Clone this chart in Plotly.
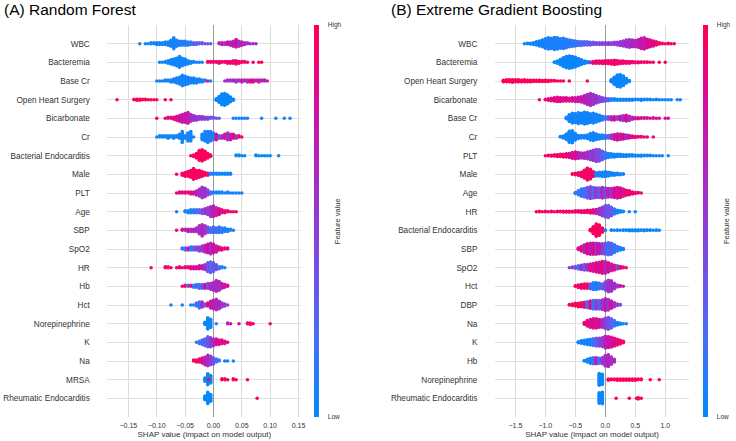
import math
import plotly.graph_objects as go

# ---------------- data: SHAP beeswarm bins ----------------
# each bin: [shap value, number of samples, normalised feature value (0 low .. 1 high)]
rf_features = ["WBC", "Bacteremia", "Base Cr", "Open Heart Surgery", "Bicarbonate", "Cr",
               "Bacterial Endocarditis", "Male", "PLT", "Age", "SBP", "SpO2", "HR", "Hb",
               "Hct", "Norepinephrine", "K", "Na", "MRSA", "Rheumatic Endocarditis"]

rf_bins = [
    # WBC
    [[-0.13,1,.05],[-0.12,1,.05],[-0.115,1,.05],[-0.11,2,.05],[-0.105,2,.05],[-0.10,3,.05],[-0.095,3,.05],
     [-0.09,3,.05],[-0.085,4,.05],[-0.08,5,.05],[-0.075,8,.05],[-0.07,14,.05],[-0.065,8,.08],[-0.06,6,.05],
     [-0.055,6,.1],[-0.05,6,.05],[-0.045,5,.15],[-0.04,4,.1],[-0.035,3,.3],[-0.03,3,.25],[-0.025,2,.35],
     [-0.02,2,.3],[-0.015,1,.4],[-0.01,1,.35],[-0.005,1,.3],[0.01,2,.6],[0.015,3,.75],[0.02,3,.55],
     [0.025,4,.8],[0.03,5,.7],[0.035,7,.65],[0.04,10,.8],[0.045,7,.6],[0.05,5,.75],[0.055,3,.6],
     [0.06,2,.55],[0.065,1,.6],[0.07,1,.55],[0.075,1,.6]],
    # Bacteremia
    [[-0.095,1,.05],[-0.09,1,.05],[-0.085,2,.05],[-0.08,4,.05],[-0.075,6,.05],[-0.07,8,.05],[-0.065,10,.05],
     [-0.06,14,.05],[-0.055,10,.05],[-0.05,8,.05],[-0.045,5,.05],[-0.04,3,.05],[-0.035,2,.05],[-0.03,1,.05],
     [-0.025,1,.05],[-0.02,1,.05],[-0.01,2,.95],[-0.005,2,.95],[0.0,2,.9],[0.005,2,.95],[0.01,3,.95],
     [0.015,2,.9],[0.02,2,.95],[0.025,3,.95],[0.03,3,.9],[0.035,4,.95],[0.04,5,.95],[0.045,3,.9],
     [0.05,2,.95],[0.055,2,.95],[0.06,1,.95],[0.07,1,.95],[0.08,1,.95],[0.085,1,.95]],
    # Base Cr
    [[-0.10,1,.05],[-0.095,1,.05],[-0.09,1,.05],[-0.085,2,.05],[-0.08,2,.05],[-0.075,3,.05],[-0.07,4,.05],
     [-0.065,6,.05],[-0.06,8,.05],[-0.055,12,.05],[-0.05,10,.05],[-0.045,8,.05],[-0.04,6,.05],[-0.035,6,.05],
     [-0.03,5,.05],[-0.025,4,.05],[-0.02,3,.05],[-0.015,2,.1],[-0.01,1,.9],[-0.005,1,.05],[0.02,1,.55],
     [0.025,2,.6],[0.03,2,.5],[0.035,2,.65],[0.04,3,.6],[0.045,2,.6],[0.05,3,.7],[0.055,2,.65],[0.06,3,.6],
     [0.065,3,.9],[0.07,3,.85],[0.075,2,.7],[0.08,3,.8],[0.085,2,.6],[0.09,2,.75],[0.095,1,.65]],
    # Open Heart Surgery
    [[-0.17,1,.97],[-0.14,2,.97],[-0.135,3,.97],[-0.13,3,.97],[-0.125,2,.97],[-0.12,2,.97],[-0.115,1,.97],
     [-0.11,1,.97],[-0.105,1,.97],[-0.10,1,.97],[-0.085,1,.97],[-0.075,1,.97],[0.005,4,.02],[0.01,12,.02],
     [0.015,22,.02],[0.02,24,.02],[0.025,18,.02],[0.03,10,.02],[0.035,3,.02]],
    # Bicarbonate
    [[-0.10,1,.97],[-0.085,1,.9],[-0.08,2,.9],[-0.075,2,.85],[-0.07,3,.9],[-0.065,5,.85],[-0.06,7,.8],
     [-0.055,9,.75],[-0.05,10,.7],[-0.045,12,.75],[-0.04,8,.6],[-0.035,6,.55],[-0.03,5,.55],[-0.025,4,.5],
     [-0.02,4,.55],[-0.015,3,.5],[-0.01,3,.45],[-0.005,2,.4],[0.0,2,.35],[0.005,1,.4],[0.01,1,.3],
     [0.035,1,.05],[0.04,1,.05],[0.045,1,.05],[0.05,1,.05],[0.055,1,.05],[0.06,1,.05],[0.085,1,.05],
     [0.11,1,.05],[0.125,1,.05],[0.135,1,.05]],
    # Cr
    [[-0.10,1,.05],[-0.095,2,.05],[-0.09,2,.05],[-0.085,2,.05],[-0.08,3,.05],[-0.075,2,.05],[-0.07,3,.05],
     [-0.065,2,.05],[-0.06,4,.05],[-0.055,9,.05],[-0.05,3,.05],[-0.045,7,.05],[-0.04,8,.05],[-0.035,1,.05],
     [-0.02,5,.05],[-0.015,8,.05],[-0.01,9,.05],[-0.005,8,.1],[0.0,6,.05],[0.005,5,.85],[0.01,3,.3],
     [0.015,3,.6],[0.02,4,.85],[0.025,6,.6],[0.03,5,.7],[0.035,4,.9],[0.04,3,.55],[0.045,2,.9],[0.05,1,.95]],
    # Bacterial Endocarditis
    [[-0.04,1,.97],[-0.035,3,.97],[-0.03,7,.97],[-0.025,14,.97],[-0.02,16,.97],[-0.015,12,.97],[-0.01,7,.97],
     [-0.005,3,.97],[0.04,2,.02],[0.045,2,.02],[0.05,1,.02],[0.055,1,.02],[0.075,2,.02],[0.08,1,.02],
     [0.085,1,.02],[0.09,1,.02],[0.095,1,.02],[0.10,1,.02],[0.115,1,.02]],
    # Male
    [[-0.065,1,.97],[-0.055,3,.97],[-0.05,5,.97],[-0.045,6,.97],[-0.04,8,.97],[-0.035,12,.97],[-0.03,9,.97],
     [-0.025,8,.97],[-0.02,6,.97],[-0.015,4,.95],[-0.01,3,.9],[-0.005,2,.05],[0.0,2,.05],[0.005,2,.05],
     [0.01,2,.05],[0.015,2,.05],[0.02,2,.05],[0.025,2,.05],[0.03,2,.05]],
    # PLT
    [[-0.065,1,.9],[-0.06,2,.9],[-0.055,2,.85],[-0.05,2,.9],[-0.045,2,.9],[-0.04,3,.85],[-0.035,3,.8],
     [-0.03,5,.7],[-0.025,8,.6],[-0.02,12,.55],[-0.015,10,.6],[-0.01,6,.45],[-0.005,3,.3],[0.0,2,.05],
     [0.005,2,.05],[0.01,2,.05],[0.015,2,.05],[0.02,1,.05],[0.025,2,.05],[0.03,1,.05],[0.035,1,.05],
     [0.04,1,.05],[0.045,1,.05],[0.05,1,.05]],
    # Age
    [[-0.065,1,.05],[-0.05,2,.05],[-0.045,3,.05],[-0.04,4,.05],[-0.035,4,.1],[-0.03,4,.3],[-0.025,4,.25],
     [-0.02,5,.35],[-0.015,6,.55],[-0.01,8,.5],[-0.005,11,.6],[0.0,12,.7],[0.005,9,.65],[0.01,7,.9],
     [0.015,4,.85],[0.02,3,.9],[0.025,2,.9],[0.03,1,.95],[0.035,1,.9],[0.04,1,.95]],
    # SBP
    [[-0.065,1,.95],[-0.055,2,.8],[-0.05,2,.7],[-0.045,3,.75],[-0.04,3,.6],[-0.035,3,.7],[-0.03,4,.6],
     [-0.025,8,.6],[-0.02,11,.65],[-0.015,8,.55],[-0.01,6,.4],[-0.005,5,.2],[0.0,6,.1],[0.005,5,.3],
     [0.01,6,.1],[0.015,5,.15],[0.02,4,.1],[0.025,3,.05],[0.03,2,.1],[0.035,1,.05]],
    # SpO2
    [[-0.055,2,.1],[-0.05,3,.2],[-0.045,3,.8],[-0.04,4,.1],[-0.035,4,.3],[-0.03,4,.5],[-0.025,5,.45],
     [-0.02,6,.5],[-0.015,8,.7],[-0.01,10,.8],[-0.005,12,.6],[0.0,10,.85],[0.005,7,.7],[0.01,4,.9],
     [0.015,3,.9],[0.02,2,.85],[0.025,2,.9]],
    # HR
    [[-0.11,1,.97],[-0.085,2,.95],[-0.08,2,.95],[-0.075,1,.95],[-0.065,1,.95],[-0.06,2,.95],[-0.055,1,.9],
     [-0.05,2,.95],[-0.045,2,.9],[-0.04,3,.9],[-0.035,3,.8],[-0.03,3,.85],[-0.025,4,.8],[-0.02,4,.75],
     [-0.015,6,.6],[-0.01,10,.35],[-0.005,12,.25],[0.0,10,.3],[0.005,6,.4],[0.01,3,.1],[0.015,2,.1],
     [0.02,1,.05]],
    # Hb
    [[-0.055,1,.95],[-0.05,2,.9],[-0.045,2,.3],[-0.04,2,.9],[-0.035,3,.1],[-0.03,4,.2],[-0.025,5,.15],
     [-0.02,5,.3],[-0.015,5,.8],[-0.01,6,.4],[-0.005,7,.6],[0.0,9,.6],[0.005,12,.65],[0.01,10,.6],
     [0.015,6,.7],[0.02,4,.75],[0.025,2,.9]],
    # Hct
    [[-0.075,1,.05],[-0.055,1,.05],[-0.04,1,.05],[-0.035,1,.05],[-0.03,4,.2],[-0.025,7,.15],[-0.02,6,.6],
     [-0.015,3,.3],[-0.01,4,.9],[-0.005,8,.7],[0.0,10,.75],[0.005,12,.6],[0.01,9,.65],[0.015,5,.55],
     [0.02,3,.5],[0.025,1,.5]],
    # Norepinephrine
    [[-0.015,4,.02],[-0.01,16,.02],[-0.005,12,.02],[0.005,1,.1],[0.025,2,.6],[0.03,1,.75],[0.045,1,.8],
     [0.06,2,.95],[0.065,3,.95],[0.07,1,.95],[0.10,1,.97]],
    # K
    [[-0.03,1,.1],[-0.025,3,.15],[-0.02,5,.2],[-0.015,7,.3],[-0.01,10,.3],[-0.005,9,.5],[0.0,7,.6],
     [0.005,6,.8],[0.01,5,.85],[0.015,4,.9],[0.02,3,.8],[0.025,1,.9]],
    # Na
    [[-0.035,2,.95],[-0.03,3,.95],[-0.025,4,.95],[-0.02,6,.85],[-0.015,9,.7],[-0.01,12,.6],[-0.005,10,.5],
     [0.0,7,.4],[0.005,4,.2],[0.01,2,.1],[0.02,1,.05],[0.025,1,.05],[0.035,1,.05]],
    # MRSA
    [[-0.015,5,.02],[-0.01,14,.02],[-0.005,10,.02],[-0.009,1,.97],[0.015,2,.97],[0.02,2,.97],[0.025,1,.97],
     [0.035,2,.97],[0.04,1,.97],[0.06,1,.97]],
    # Rheumatic Endocarditis
    [[-0.015,6,.02],[-0.01,16,.02],[-0.005,10,.02],[0.077,1,.97]],
]

xgb_features = ["WBC", "Bacteremia", "Open Heart Surgery", "Bicarbonate", "Base Cr", "Cr", "PLT",
                "Male", "Age", "HR", "Bacterial Endocarditis", "SBP", "SpO2", "Hct", "DBP", "Na",
                "K", "Hb", "Norepinephrine", "Rheumatic Endocarditis"]

xgb_bins = [
    # WBC
    [[-1.35,1,.05],[-1.30,2,.05],[-1.25,3,.05],[-1.20,5,.05],[-1.15,8,.05],[-1.10,12,.05],[-1.05,16,.08],
     [-1.00,22,.05],[-0.95,26,.1],[-0.90,24,.05],[-0.85,28,.12],[-0.80,26,.05],[-0.75,22,.1],[-0.70,24,.05],
     [-0.65,20,.15],[-0.60,16,.05],[-0.55,14,.2],[-0.50,12,.1],[-0.45,10,.25],[-0.40,9,.15],[-0.35,8,.3],
     [-0.30,8,.25],[-0.25,7,.35],[-0.20,6,.3],[-0.15,5,.4],[-0.10,5,.4],[-0.05,5,.45],[0.00,5,.45],
     [0.05,5,.5],[0.10,5,.45],[0.15,6,.5],[0.20,7,.5],[0.25,9,.55],[0.30,12,.55],[0.35,16,.6],
     [0.40,18,.55],[0.45,16,.65],[0.50,15,.6],[0.55,18,.7],[0.60,24,.75],[0.65,26,.7],[0.70,20,.85],
     [0.75,16,.8],[0.80,12,.9],[0.85,8,.9],[0.90,4,.92],[0.95,2,.95],[1.00,1,.95],[1.05,2,.95],
     [1.10,1,.95],[1.15,1,.95]],
    # Bacteremia
    [[-0.85,2,.03],[-0.80,6,.03],[-0.75,14,.03],[-0.70,22,.03],[-0.65,28,.03],[-0.60,30,.03],[-0.55,28,.03],
     [-0.50,24,.03],[-0.45,18,.03],[-0.40,12,.03],[-0.35,7,.03],[-0.30,4,.03],[-0.25,3,.5],[-0.20,5,.9],
     [-0.15,6,.95],[-0.10,6,.9],[-0.05,7,.95],[0.00,8,.9],[0.05,8,.95],[0.10,9,.93],[0.15,11,.95],
     [0.20,9,.9],[0.25,7,.95],[0.30,6,.93],[0.35,5,.95],[0.40,5,.9],[0.45,4,.95],[0.50,3,.95],[0.55,3,.9],
     [0.60,2,.95],[0.65,2,.95],[0.70,2,.95],[0.75,1,.95],[0.80,1,.95],[0.90,1,.95],[1.00,1,.95]],
    # Open Heart Surgery
    [[-1.70,5,.97],[-1.65,6,.97],[-1.60,6,.97],[-1.55,7,.97],[-1.50,6,.97],[-1.45,6,.97],[-1.40,5,.97],
     [-1.35,6,.97],[-1.30,5,.97],[-1.25,5,.97],[-1.20,4,.97],[-1.15,4,.97],[-1.10,4,.97],[-1.05,3,.97],
     [-1.00,4,.97],[-0.95,3,.97],[-0.90,2,.97],[-0.85,2,.97],[-0.80,1,.97],[-0.75,1,.97],[-0.70,1,.97],
     [-0.60,1,.97],[-0.30,1,.97],[0.10,6,.03],[0.15,18,.03],[0.20,28,.03],[0.25,30,.03],[0.30,24,.03],
     [0.35,12,.03],[0.40,3,.03]],
    # Bicarbonate
    [[-1.10,1,.95],[-1.00,2,.9],[-0.95,4,.9],[-0.90,6,.85],[-0.85,8,.92],[-0.80,10,.85],[-0.75,9,.9],
     [-0.70,8,.8],[-0.65,8,.9],[-0.60,7,.8],[-0.55,8,.85],[-0.50,9,.75],[-0.45,10,.8],[-0.40,12,.7],
     [-0.35,16,.72],[-0.30,22,.65],[-0.25,26,.6],[-0.20,22,.55],[-0.15,16,.6],[-0.10,12,.45],
     [-0.05,9,.45],[0.00,7,.4],[0.05,5,.3],[0.10,4,.05],[0.15,4,.05],[0.20,3,.05],[0.25,3,.05],
     [0.30,3,.05],[0.35,3,.05],[0.40,3,.05],[0.45,3,.05],[0.50,2,.05],[0.55,2,.05],[0.60,3,.05],
     [0.65,2,.05],[0.70,2,.05],[0.75,2,.05],[0.80,1,.05],[0.85,2,.05],[0.90,1,.05],[0.95,1,.05],
     [1.00,1,.05],[1.05,1,.05],[1.10,1,.05],[1.20,1,.05],[1.25,1,.05]],
    # Base Cr
    [[-0.65,4,.05],[-0.60,14,.05],[-0.55,20,.05],[-0.50,18,.05],[-0.45,22,.05],[-0.40,20,.05],
     [-0.35,24,.05],[-0.30,22,.05],[-0.25,18,.05],[-0.20,20,.05],[-0.15,16,.05],[-0.10,12,.05],
     [-0.05,8,.05],[0.00,6,.2],[0.05,6,.4],[0.10,7,.6],[0.15,7,.85],[0.20,6,.5],[0.25,8,.8],[0.30,10,.55],
     [0.35,12,.8],[0.40,9,.6],[0.45,5,.65],[0.50,3,.75],[0.55,3,.85],[0.60,2,.75],[0.65,2,.85],
     [0.70,2,.75],[0.75,1,.85],[0.80,2,.75],[0.85,1,.85],[0.90,1,.8],[1.00,1,.85],[1.05,1,.8]],
    # Cr
    [[-0.75,2,.05],[-0.70,5,.05],[-0.65,12,.05],[-0.60,22,.05],[-0.55,24,.05],[-0.50,14,.05],[-0.45,7,.05],
     [-0.40,6,.05],[-0.35,6,.05],[-0.30,8,.05],[-0.25,14,.05],[-0.20,16,.05],[-0.15,12,.05],[-0.10,9,.05],
     [-0.05,8,.05],[0.00,7,.15],[0.05,6,.3],[0.10,8,.5],[0.15,11,.7],[0.20,13,.85],[0.25,12,.65],
     [0.30,10,.9],[0.35,8,.6],[0.40,6,.8],[0.45,4,.9],[0.50,3,.9],[0.55,2,.92],[0.60,2,.9],[0.65,1,.92],
     [0.70,1,.9],[0.80,1,.92]],
    # PLT
    [[-1.00,1,.95],[-0.95,2,.95],[-0.90,3,.95],[-0.85,4,.95],[-0.80,5,.95],[-0.75,6,.95],[-0.70,7,.95],
     [-0.65,8,.95],[-0.60,10,.85],[-0.55,14,.75],[-0.50,16,.85],[-0.45,14,.7],[-0.40,12,.6],[-0.35,13,.65],
     [-0.30,16,.6],[-0.25,20,.5],[-0.20,24,.55],[-0.15,28,.45],[-0.10,26,.4],[-0.05,20,.3],[0.00,14,.2],
     [0.05,10,.05],[0.10,8,.05],[0.15,7,.05],[0.20,6,.05],[0.25,6,.05],[0.30,5,.05],[0.35,5,.05],
     [0.40,4,.05],[0.45,4,.05],[0.50,3,.05],[0.55,3,.05],[0.60,3,.05],[0.65,2,.05],[0.70,2,.05],
     [0.75,2,.05],[0.80,1,.05],[0.85,1,.05],[0.90,1,.05],[0.95,1,.05],[1.05,1,.05]],
    # Male
    [[-0.55,2,.95],[-0.50,4,.95],[-0.45,6,.95],[-0.40,9,.95],[-0.35,16,.95],[-0.30,24,.95],[-0.25,20,.95],
     [-0.20,10,.95],[-0.15,7,.05],[-0.10,8,.05],[-0.05,9,.05],[0.00,10,.05],[0.05,8,.05],[0.10,6,.05],
     [0.15,5,.05],[0.20,4,.05],[0.25,3,.05],[0.30,2,.05]],
    # Age
    [[-0.50,3,.15],[-0.45,8,.15],[-0.40,14,.1],[-0.35,16,.2],[-0.30,20,.3],[-0.25,22,.45],[-0.20,20,.25],
     [-0.15,18,.55],[-0.10,18,.35],[-0.05,20,.6],[0.00,18,.45],[0.05,16,.7],[0.10,16,.55],[0.15,18,.85],
     [0.20,20,.75],[0.25,18,.9],[0.30,14,.8],[0.35,10,.92],[0.40,8,.92],[0.45,5,.92],[0.50,3,.92],
     [0.55,2,.92],[0.60,1,.92]],
    # HR
    [[-1.15,1,.95],[-1.10,2,.95],[-1.05,1,.95],[-1.00,2,.95],[-0.95,1,.95],[-0.90,2,.95],[-0.85,1,.95],
     [-0.80,2,.95],[-0.75,2,.95],[-0.70,3,.95],[-0.65,3,.9],[-0.60,3,.95],[-0.55,3,.9],[-0.50,4,.95],
     [-0.45,4,.9],[-0.40,5,.95],[-0.35,5,.9],[-0.30,6,.95],[-0.25,7,.9],[-0.20,8,.85],[-0.15,10,.75],
     [-0.10,14,.6],[-0.05,20,.5],[0.00,26,.4],[0.05,28,.3],[0.10,20,.35],[0.15,12,.2],[0.20,7,.05],
     [0.25,4,.05],[0.30,2,.05],[0.40,1,.05],[0.50,1,.05]],
    # Bacterial Endocarditis
    [[-0.25,4,.97],[-0.20,16,.97],[-0.15,28,.97],[-0.10,24,.97],[-0.05,10,.97],[0.00,2,.03],[0.10,2,.03],
     [0.15,1,.03],[0.20,2,.03],[0.25,1,.03],[0.30,2,.03],[0.35,2,.03],[0.40,3,.03],[0.45,3,.03],
     [0.50,3,.03],[0.55,3,.03],[0.60,2,.03],[0.65,3,.03],[0.70,2,.03],[0.75,2,.03],[0.80,1,.03],
     [0.85,2,.03],[0.90,1,.03]],
    # SBP
    [[-0.45,4,.8],[-0.40,10,.9],[-0.35,16,.6],[-0.30,20,.9],[-0.25,22,.7],[-0.20,22,.85],[-0.15,22,.6],
     [-0.10,20,.8],[-0.05,20,.5],[0.00,22,.35],[0.05,24,.15],[0.10,22,.3],[0.15,16,.1],[0.20,10,.2],
     [0.25,6,.05],[0.30,3,.05]],
    # SpO2
    [[-0.60,1,.55],[-0.55,2,.5],[-0.50,4,.4],[-0.45,6,.2],[-0.40,8,.55],[-0.35,10,.3],[-0.30,10,.6],
     [-0.25,12,.85],[-0.20,14,.75],[-0.15,16,.9],[-0.10,18,.8],[-0.05,20,.9],[0.00,20,.6],[0.05,16,.85],
     [0.10,12,.7],[0.15,9,.9],[0.20,6,.4],[0.25,4,.9],[0.30,2,.9],[0.35,1,.9]],
    # Hct
    [[-0.50,2,.95],[-0.45,5,.95],[-0.40,7,.95],[-0.35,8,.95],[-0.30,8,.95],[-0.25,9,.3],[-0.20,12,.1],
     [-0.15,12,.05],[-0.10,10,.15],[-0.05,9,.3],[0.00,14,.45],[0.05,20,.55],[0.10,18,.6],[0.15,10,.55],
     [0.20,4,.5],[0.25,2,.9],[0.30,1,.6]],
    # DBP
    [[-0.60,2,.95],[-0.55,4,.95],[-0.50,6,.95],[-0.45,7,.95],[-0.40,8,.95],[-0.35,10,.9],[-0.30,12,.2],
     [-0.25,14,.85],[-0.20,16,.15],[-0.15,16,.5],[-0.10,16,.3],[-0.05,18,.5],[0.00,22,.7],[0.05,20,.55],
     [0.10,14,.8],[0.15,8,.6],[0.20,4,.5],[0.25,2,.4]],
    # Na
    [[-0.35,4,.85],[-0.30,10,.95],[-0.25,14,.8],[-0.20,16,.9],[-0.15,16,.75],[-0.10,14,.85],[-0.05,14,.6],
     [0.00,18,.5],[0.05,20,.35],[0.10,16,.3],[0.15,10,.2],[0.20,5,.05],[0.25,3,.05],[0.30,1,.05],
     [0.35,1,.05]],
    # K
    [[-0.45,3,.05],[-0.40,6,.05],[-0.35,8,.05],[-0.30,10,.05],[-0.25,12,.05],[-0.20,14,.15],[-0.15,16,.3],
     [-0.10,16,.45],[-0.05,18,.5],[0.00,24,.65],[0.05,22,.8],[0.10,20,.75],[0.15,16,.9],[0.20,12,.85],
     [0.25,8,.92],[0.30,4,.95]],
    # Hb
    [[-0.35,2,.05],[-0.30,6,.05],[-0.25,10,.05],[-0.20,12,.2],[-0.15,12,.7],[-0.10,10,.2],[-0.05,12,.5],
     [0.00,20,.6],[0.05,22,.65],[0.10,14,.6],[0.15,6,.6]],
    # Norepinephrine
    [[-0.10,20,.03],[-0.05,18,.03],[0.05,3,.97],[0.10,2,.97],[0.15,2,.97],[0.20,3,.97],[0.25,3,.97],
     [0.30,3,.97],[0.35,3,.97],[0.40,3,.97],[0.45,3,.97],[0.50,3,.97],[0.55,2,.97],[0.60,2,.97],
     [0.75,1,.97],[0.90,1,.97]],
    # Rheumatic Endocarditis
    [[-0.10,18,.03],[-0.05,20,.03],[0.18,1,.97],[0.40,1,.97],[0.52,1,.97],[0.55,3,.97],[0.60,1,.97]],
]

rf_ticks = [-0.15, -0.10, -0.05, 0.00, 0.05, 0.10, 0.15]
xgb_ticks = [-1.5, -1.0, -0.5, 0.0, 0.5, 1.0]

# shap red_blue style colour scale
shap_scale = [[0.0, "rgb(0,139,251)"], [0.2, "rgb(72,110,245)"], [0.4, "rgb(122,76,226)"],
              [0.5, "rgb(143,60,212)"], [0.6, "rgb(166,44,197)"], [0.8, "rgb(212,14,158)"],
              [1.0, "rgb(255,0,82)"]]


def beeswarm(bins_per_feature):
    """Stack each bin's samples around its row like shap's summary plot."""
    xs, ys, cs = [], [], []
    nrow = len(bins_per_feature)
    for i, bins in enumerate(bins_per_feature):
        row = nrow - 1 - i
        top = max(n // 2 for _, n, _ in bins)
        scale = 0.36 / (top + 1)
        for x, n, c in bins:
            for k in range(n):
                off = math.ceil(k / 2) * (1 if k % 2 else -1)
                xs.append(x)
                ys.append(row + off * scale)
                cs.append(c)
    return xs, ys, cs


W, H = 736, 441
FONT = "Liberation Sans, Arial, sans-serif"
TXT = "#333333"

fig = go.Figure()
for bins, xa, ya, ca in [(rf_bins, "x", "y", "coloraxis"), (xgb_bins, "x2", "y2", "coloraxis2")]:
    xs, ys, cs = beeswarm(bins)
    fig.add_trace(go.Scatter(x=xs, y=ys, mode="markers", xaxis=xa, yaxis=ya,
                             marker=dict(size=3.5, color=cs, coloraxis=ca, line=dict(width=0)),
                             hoverinfo="skip", showlegend=False))

ydom = [1 - 417 / H, 1 - 25 / H]


def xaxis_cfg(dom, rng, ticks, fmt, anchor):
    return dict(domain=dom, range=rng, tickvals=ticks, tickformat=fmt, anchor=anchor,
                showgrid=True, gridcolor="#dcdcdc", gridwidth=1,
                zeroline=True, zerolinecolor="#999999", zerolinewidth=1.3,
                showline=False, ticks="outside", ticklen=2, tickcolor="rgba(0,0,0,0)",
                tickfont=dict(size=7, color=TXT, family=FONT),
                title=dict(text="SHAP value (impact on model output)",
                           font=dict(size=8, color=TXT, family=FONT), standoff=2))


def yaxis_cfg(names, anchor):
    n = len(names)
    return dict(domain=ydom, range=[-1, n], anchor=anchor,
                tickvals=list(range(n)), ticktext=list(reversed(names)),
                showgrid=True, gridcolor="#e0e0e0", gridwidth=1, zeroline=False,
                showline=False, ticks="outside", ticklen=15, tickcolor="rgba(0,0,0,0)",
                tickfont=dict(size=8.2, color=TXT, family=FONT), fixedrange=True)


def cbar(xpx):
    return dict(x=xpx / W, xanchor="left", y=1 - 25 / H, yanchor="top",
                len=392 / H, lenmode="fraction", thickness=4.5, thicknessmode="pixels",
                xpad=0, ypad=0, outlinewidth=0, tickvals=[0, 1], ticktext=["Low", "High"],
                ticks="outside", ticklen=8, tickcolor="rgba(0,0,0,0)",
                tickfont=dict(size=6.5, color=TXT, family=FONT))


fig.update_layout(
    width=W, height=H, margin=dict(l=0, r=0, t=0, b=0),
    paper_bgcolor="white", plot_bgcolor="white",
    font=dict(family=FONT, color=TXT),
    showlegend=False,
    xaxis=xaxis_cfg([108 / W, 303 / W], [-0.187, 0.155], rf_ticks, ".2f", "y"),
    yaxis=yaxis_cfg(rf_features, "x"),
    xaxis2=xaxis_cfg([497.7 / W, 693 / W], [-1.84, 1.40], xgb_ticks, ".1f", "y2"),
    yaxis2=yaxis_cfg(xgb_features, "x2"),
    coloraxis=dict(colorscale=shap_scale, cmin=0, cmax=1, colorbar=cbar(316)),
    coloraxis2=dict(colorscale=shap_scale, cmin=0, cmax=1, colorbar=cbar(707)),
)

annots = [
    dict(text="(A) Random Forest", x=2 / W, y=1 - 10 / H, xanchor="left", yanchor="middle",
         font=dict(size=15.5, color="black", family=FONT)),
    dict(text="(B) Extreme Gradient Boosting", x=391 / W, y=1 - 10 / H, xanchor="left",
         yanchor="middle", font=dict(size=15.5, color="black", family=FONT)),
    dict(text="Feature value", x=340 / W, y=1 - 221 / H, textangle=-90, xanchor="center",
         yanchor="middle", font=dict(size=7.5, color=TXT, family=FONT)),
    dict(text="Feature value", x=731 / W, y=1 - 221 / H, textangle=-90, xanchor="center",
         yanchor="middle", font=dict(size=7.5, color=TXT, family=FONT)),
]
for a in annots:
    a.update(xref="paper", yref="paper", showarrow=False)
fig.update_layout(annotations=annots)

fig.write_html("out.html")
